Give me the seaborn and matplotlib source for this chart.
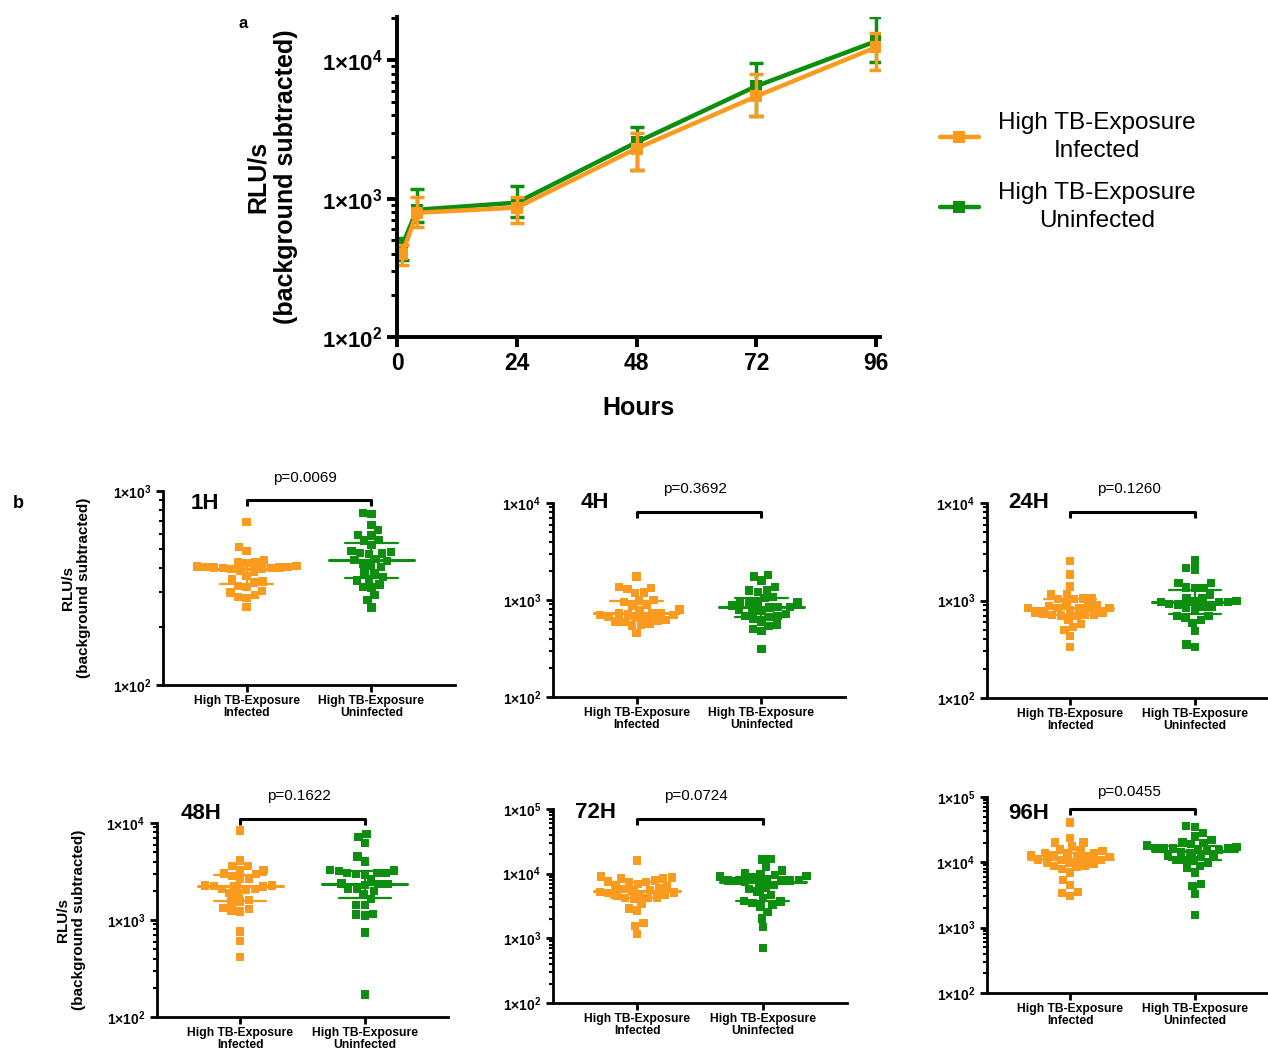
import numpy as np
import pandas as pd
import matplotlib
matplotlib.use("Agg")
import matplotlib.pyplot as plt
import matplotlib.transforms as mtransforms
import seaborn as sns
from matplotlib.ticker import FuncFormatter, LogLocator, NullFormatter

ORANGE = "#FA9A1E"
GREEN = "#0E8E0E"

# panel a: median with interquartile range over time
hours = [1, 4, 24, 48, 72, 96]
inf_med = [395, 790, 860, 2300, 5480, 12400]
inf_lo = [332, 627, 670, 1600, 3930, 8470]
inf_hi = [460, 1030, 1030, 3000, 7920, 15700]
uninf_med = [455, 830, 935, 2550, 6490, 13700]
uninf_lo = [361, 681, 741, 1620, 3980, 9680]
uninf_hi = [521, 1180, 1240, 3270, 9500, 20500]

# panel b: individual values per time point
groups = ["High TB-Exposure\nInfected", "High TB-Exposure\nUninfected"]

inf_1h = [692, 515, 491, 440, 432, 428, 425, 410, 408, 406, 405, 404, 403, 402, 400, 398,
          395, 390, 385, 364, 350, 342, 338, 325, 320, 305, 300, 290, 285, 280, 253]
uninf_1h = [770, 760, 666, 628, 595, 590, 557, 555, 525, 490, 485, 480, 476, 472, 445, 440,
            435, 423, 410, 406, 380, 376, 361, 350, 345, 330, 321, 318, 290, 274, 251]

inf_4h = [1742, 1353, 1322, 1300, 1191, 1180, 1000, 985, 960, 887, 870, 800, 790, 740, 728,
          725, 720, 700, 695, 673, 670, 660, 621, 615, 600, 597, 565, 560, 545, 460]
uninf_4h = [1815, 1742, 1585, 1353, 1268, 1250, 1200, 1067, 1050, 962, 950, 940, 930, 880, 853,
            850, 840, 790, 788, 780, 720, 683, 680, 670, 645, 600, 560, 538, 501, 478, 311]

inf_24h = [2540, 1854, 1396, 1156, 1150, 1050, 1045, 1040, 1030, 950, 891, 880, 850, 844, 840,
           835, 830, 800, 745, 740, 722, 720, 715, 710, 700, 690, 635, 570, 535, 502, 433, 333]
uninf_24h = [2580, 2150, 2072, 1510, 1500, 1355, 1350, 1340, 1156, 1069, 1060, 988, 980, 970, 966,
             960, 914, 910, 871, 865, 850, 805, 693, 690, 662, 627, 588, 486, 355, 333]

inf_48h = [8400, 4095, 3630, 3600, 3300, 3280, 3005, 3000, 2820, 2648, 2640, 2270, 2260, 2250, 2240,
           2220, 2090, 2080, 2060, 1897, 1880, 1600, 1557, 1550, 1330, 1300, 1250, 1228, 763, 603, 416]
uninf_48h = [7760, 7170, 6230, 4530, 4025, 3300, 3250, 3200, 3055, 3050, 3040, 2980, 2950, 2607, 2370,
             2360, 2340, 2300, 2090, 2080, 1980, 1826, 1645, 1438, 1430, 1162, 1140, 1109, 746, 170]

inf_72h = [15970, 9020, 8700, 8490, 8400, 7800, 7530, 7500, 7400, 6930, 6460, 6400, 6000, 5800, 5600,
           5500, 5200, 5090, 5000, 4900, 4680, 4600, 4300, 4250, 4200, 4010, 3470, 2910, 2680, 1740,
           1550, 1160]
uninf_72h = [16950, 16500, 12590, 11170, 10160, 10000, 9500, 9200, 9020, 8800, 8200, 8000, 7820, 7800,
             7750, 7700, 7550, 7270, 6700, 5950, 5800, 5280, 4680, 4160, 3820, 3700, 3500, 3270, 3100,
             2580, 2030, 1510, 713]

inf_96h = [40800, 23400, 20100, 20000, 17460, 16000, 15170, 15000, 13800, 13700, 13600, 13000, 12800,
           11970, 11900, 11500, 11000, 10900, 10800, 10280, 10200, 9500, 8810, 8700, 8600, 7830, 6960,
           5370, 4500, 3500, 3430, 3050]
uninf_96h = [36300, 35000, 28000, 24900, 22100, 20000, 19660, 19000, 18000, 17000, 16500, 16400, 16300,
             16200, 15800, 15500, 15000, 14500, 14000, 12560, 12400, 12000, 10900, 10800, 10700, 9910,
             8810, 8110, 6960, 4670, 4350, 3270, 1560]

panel_titles = ["1H", "4H", "24H", "48H", "72H", "96H"]
p_values = ["p=0.0069", "p=0.3692", "p=0.1260", "p=0.1622", "p=0.0724", "p=0.0455"]
panel_data = [(inf_1h, uninf_1h), (inf_4h, uninf_4h), (inf_24h, uninf_24h),
              (inf_48h, uninf_48h), (inf_72h, uninf_72h), (inf_96h, uninf_96h)]
panel_ytop = [1e3, 1e4, 1e4, 1e4, 1e5, 1e5]

# layout (pixels in the 1268x1050 canvas): left, top, right, bottom
W, H = 1268, 1050
panel_boxes = [(163, 491, 455, 685), (553, 503, 845, 697), (987, 503, 1278, 698),
               (157, 823, 448, 1017), (553, 809, 847, 1003), (987, 797, 1278, 993)]
title_pos = [(0.093, 0.938), (0.093, 1.0), (0.072, 1.0), (0.082, 1.05), (0.076, 0.98), (0.072, 0.918)]
bracket_pos = [0.954, 0.954, 0.954, 1.02, 0.948, 0.938]
pval_pos = [1.067, 1.072, 1.072, 1.139, 1.067, 1.026]

sns.set_style("ticks")
plt.rcParams["font.family"] = ["Liberation Sans", "DejaVu Sans"]
plt.rcParams["mathtext.fontset"] = "custom"
plt.rcParams["mathtext.rm"] = "Liberation Sans"
plt.rcParams["mathtext.bf"] = "Liberation Sans:bold"
plt.rcParams["mathtext.default"] = "bf"
for key in ["text.color", "axes.labelcolor", "axes.edgecolor", "xtick.color", "ytick.color"]:
    plt.rcParams[key] = "black"


def pow_label(y, pos):
    if y <= 0:
        return ""
    e = int(round(np.log10(y)))
    return "1\u00d710$^{%d}$" % e


def add_axes_px(fig, box):
    l, t, r, b = box
    return fig.add_axes([l / W, 1 - b / H, (r - l) / W, (b - t) / H])


def style_log_axis(ax, spine_w, major_len, minor_len, label_size):
    for side in ["left", "bottom"]:
        ax.spines[side].set_linewidth(spine_w)
    for side in ["top", "right"]:
        ax.spines[side].set_visible(False)
    ax.yaxis.set_major_locator(LogLocator(base=10))
    ax.yaxis.set_minor_locator(LogLocator(base=10, subs=np.arange(2, 10)))
    ax.yaxis.set_minor_formatter(NullFormatter())
    ax.yaxis.set_major_formatter(FuncFormatter(pow_label))
    ax.tick_params(axis="both", which="major", width=spine_w, length=major_len,
                   labelsize=label_size, direction="out")
    ax.tick_params(axis="y", which="minor", width=spine_w * 0.75, length=minor_len)


fig = plt.figure(figsize=(W / 100, H / 100), dpi=100)

# ---- panel a ----
ax = add_axes_px(fig, (397, 17, 880, 337))
ax.set_yscale("log")
for med, lo, hi, col, lab in [(uninf_med, uninf_lo, uninf_hi, GREEN, "High TB-Exposure\nUninfected"),
                              (inf_med, inf_lo, inf_hi, ORANGE, "High TB-Exposure\nInfected")]:
    med_a = np.array(med)
    sns.lineplot(x=hours, y=med, color=col, marker="s", markersize=9, markeredgewidth=0,
                 linewidth=3.2, ax=ax, label=lab)
    ax.errorbar(hours, med, yerr=[med_a - np.array(lo), np.array(hi) - med_a], fmt="none",
                ecolor=col, elinewidth=2.5, capsize=5, capthick=2.5)
ax.set_xlim(0, 96.8)
ax.set_ylim(100, 20500)
ax.set_xticks([0, 24, 48, 72, 96])
style_log_axis(ax, 2.8, 7, 4, 16)
ax.tick_params(axis="x", labelsize=16.5)
for lab in ax.get_xticklabels() + ax.get_yticklabels():
    lab.set_fontweight("bold")
ax.set_xlabel("Hours", fontsize=18, fontweight="bold")
ax.xaxis.set_label_coords(0.5, -0.185)
ax.set_ylabel("RLU/s\n(background subtracted)", fontsize=18, fontweight="bold")
ax.yaxis.set_label_coords(-0.205, 0.5)
handles, labels = ax.get_legend_handles_labels()
ax.get_legend().remove()
leg = fig.legend(handles[::-1], labels[::-1], loc="center left",
                 bbox_to_anchor=(918 / W, 1 - 172 / H), frameon=False, fontsize=17.5,
                 handlelength=1.6, labelspacing=0.8, handletextpad=0.8)
for t in leg.get_texts():
    t.set_multialignment("center")
    t.set_linespacing(1.35)

fig.text(243 / W, 1 - 23 / H, "a", fontsize=12, fontweight="bold", ha="center", va="center")
fig.text(18 / W, 1 - 503 / H, "b", fontsize=13, fontweight="bold", ha="center", va="center")

# ---- panel b ----
for i, (inf, uninf) in enumerate(panel_data):
    ax = add_axes_px(fig, panel_boxes[i])
    df = pd.DataFrame({"group": [groups[0]] * len(inf) + [groups[1]] * len(uninf),
                       "value": inf + uninf})
    sns.swarmplot(data=df, x="group", y="value", hue="group", order=groups, hue_order=groups,
                  palette=[ORANGE, GREEN], marker="s", size=6, linewidth=0, log_scale=True,
                  legend=False, ax=ax, zorder=3)
    for k, vals in enumerate([inf, uninf]):
        q1, med, q3 = np.percentile(vals, [25, 50, 75])
        col = [ORANGE, GREEN][k]
        ax.plot([k - 0.34, k + 0.34], [med, med], color=col, lw=2.2, zorder=5)
        ax.plot([k - 0.21, k + 0.21], [q1, q1], color=col, lw=1.6, zorder=5)
        ax.plot([k - 0.21, k + 0.21], [q3, q3], color=col, lw=1.6, zorder=5)
        ax.plot([k, k], [q1, q3], color=col, lw=1.6, zorder=5)
    ax.set_ylim(100, panel_ytop[i])
    ax.set_xlim(-0.67, 1.67)
    ax.set_xlabel("")
    ax.set_ylabel("")
    style_log_axis(ax, 2.0, 5, 3, 10)
    ax.tick_params(axis="x", labelsize=8.7, pad=2)
    for lab in ax.get_xticklabels():
        lab.set_fontweight("bold")
        lab.set_linespacing(1.0)
    for lab in ax.get_yticklabels():
        lab.set_fontweight("bold")
    if i in (0, 3):
        ax.set_ylabel("RLU/s\n(background subtracted)", fontsize=11, fontweight="bold")
        ax.yaxis.set_label_coords(-0.245, 0.5)
    tx, ty = title_pos[i]
    ax.text(tx, ty, panel_titles[i], transform=ax.transAxes, fontsize=16, fontweight="bold",
            ha="left", va="center")
    trans = mtransforms.blended_transform_factory(ax.transData, ax.transAxes)
    by = bracket_pos[i]
    ax.plot([0, 0, 1, 1], [by - 0.03, by, by, by - 0.03], color="black", lw=2.2,
            transform=trans, clip_on=False, solid_capstyle="butt")
    ax.text(0.47, pval_pos[i], p_values[i], transform=trans, fontsize=11,
            ha="center", va="center")

fig.savefig("out.png", dpi=100)
